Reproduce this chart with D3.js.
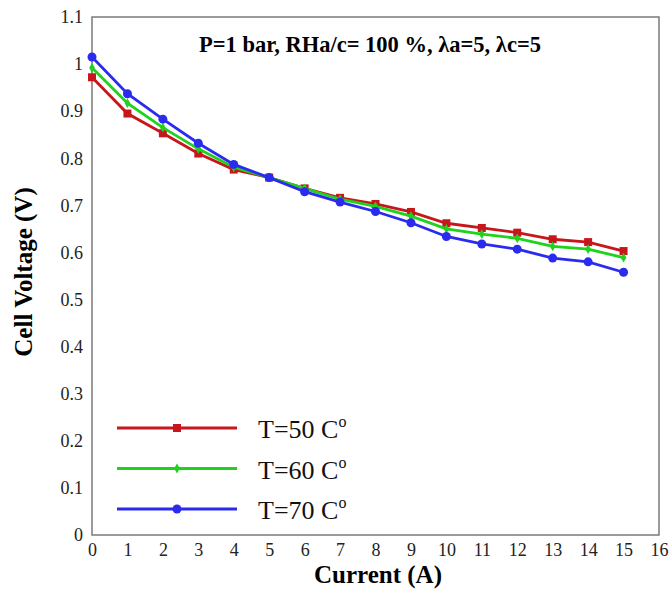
<!DOCTYPE html>
<html>
<head>
<meta charset="utf-8">
<script src="https://cdn.jsdelivr.net/npm/d3@7"></script>
<style>
  body { margin: 0; background: #fff; }
  svg text { font-family: "Liberation Serif", "Times New Roman", serif; }
</style>
</head>
<body>
<script>
// current (A)
var current = [0, 1, 2, 3, 4, 5, 6, 7, 8, 9, 10, 11, 12, 13, 14, 15];

// cell voltage (V) at each temperature
var t50 = [0.972, 0.895, 0.853, 0.810, 0.776, 0.759, 0.736, 0.716, 0.703, 0.686, 0.662, 0.652, 0.642, 0.628, 0.622, 0.603];
var t60 = [0.992, 0.917, 0.865, 0.820, 0.781, 0.759, 0.736, 0.713, 0.698, 0.677, 0.650, 0.639, 0.630, 0.613, 0.607, 0.589];
var t70 = [1.015, 0.937, 0.883, 0.832, 0.787, 0.759, 0.729, 0.707, 0.687, 0.663, 0.634, 0.618, 0.607, 0.588, 0.580, 0.558];

var seriesNames = ["T=50 C", "T=60 C", "T=70 C"];
var seriesColors = ["#c8161d", "#1ed21e", "#2b2bf0"];
var seriesShapes = ["square", "diamond", "circle"];

var xTicks = d3.range(0, 17);
var yTicks = d3.range(0, 1.11, 0.1);

var width = 672, height = 589;
var margin = {top: 17, right: 13, bottom: 54, left: 92};

var svg = d3.select("body").append("svg")
  .attr("width", width)
  .attr("height", height);

var x = d3.scaleLinear().domain([0, 16]).range([margin.left, width - margin.right]);
var y = d3.scaleLinear().domain([0, 1.1]).range([height - margin.bottom, margin.top]);

// frame
svg.append("rect")
  .attr("x", x(0)).attr("y", y(1.1))
  .attr("width", x(16) - x(0)).attr("height", y(0) - y(1.1))
  .attr("fill", "none").attr("stroke", "#7a7a7a").attr("stroke-width", 1.5);

// axes (labels only, no tick marks)
var xAxis = svg.append("g")
  .attr("transform", "translate(0," + y(0) + ")")
  .call(d3.axisBottom(x).tickValues(xTicks).tickSize(0).tickPadding(8).tickFormat(d3.format("d")));
var yAxis = svg.append("g")
  .attr("transform", "translate(" + x(0) + ",0)")
  .call(d3.axisLeft(y).tickValues(yTicks).tickSize(0).tickPadding(9)
    .tickFormat(function(d) { return +d.toFixed(1); }));
[xAxis, yAxis].forEach(function(a) {
  a.select(".domain").remove();
  a.selectAll("text")
    .style("font-family", "'Liberation Serif', serif")
    .style("font-size", "18px")
    .attr("fill", "#222");
});

// axis titles
svg.append("text")
  .attr("x", 378).attr("y", 583)
  .attr("text-anchor", "middle")
  .attr("font-size", 25).attr("font-weight", "bold")
  .text("Current (A)");
svg.append("text")
  .attr("transform", "translate(32,272) rotate(-90)")
  .attr("text-anchor", "middle")
  .attr("font-size", 25).attr("font-weight", "bold")
  .text("Cell Voltage (V)");

// title
svg.append("text")
  .attr("x", 370).attr("y", 52)
  .attr("text-anchor", "middle")
  .attr("font-size", 22.5).attr("font-weight", "bold")
  .text("P=1 bar, RHa/c= 100 %, \u03bba=5, \u03bbc=5");

var line = d3.line()
  .x(function(d) { return x(d[0]); })
  .y(function(d) { return y(d[1]); });

function marker(g, shape, color, cx, cy) {
  if (shape === "square") {
    g.append("rect").attr("x", cx - 4).attr("y", cy - 4).attr("width", 8).attr("height", 8).attr("fill", color);
  } else if (shape === "diamond") {
    g.append("path").attr("d", d3.symbol().type(d3.symbolDiamond).size(28)())
      .attr("transform", "translate(" + cx + "," + cy + ")").attr("fill", color);
  } else {
    g.append("circle").attr("cx", cx).attr("cy", cy).attr("r", 4.5).attr("fill", color);
  }
}

[t50, t60, t70].forEach(function(vals, i) {
  var pts = current.map(function(c, j) { return [c, vals[j]]; });
  var g = svg.append("g");
  g.append("path").datum(pts)
    .attr("d", line)
    .attr("fill", "none")
    .attr("stroke", seriesColors[i])
    .attr("stroke-width", 2.8);
  pts.forEach(function(p) {
    marker(g, seriesShapes[i], seriesColors[i], x(p[0]), y(p[1]));
  });
});

// legend
var legendY = [428, 468.5, 509];
seriesNames.forEach(function(name, i) {
  var g = svg.append("g");
  g.append("line")
    .attr("x1", 117).attr("x2", 237)
    .attr("y1", legendY[i]).attr("y2", legendY[i])
    .attr("stroke", seriesColors[i]).attr("stroke-width", 2.8);
  marker(g, seriesShapes[i], seriesColors[i], 177, legendY[i]);
  var t = g.append("text")
    .attr("x", 258).attr("y", legendY[i] + 10)
    .attr("font-size", 26).attr("fill", "#111")
    .text(name);
  t.append("tspan")
    .attr("dy", -11).attr("font-size", 16)
    .text("o");
});
</script>
</body>
</html>
